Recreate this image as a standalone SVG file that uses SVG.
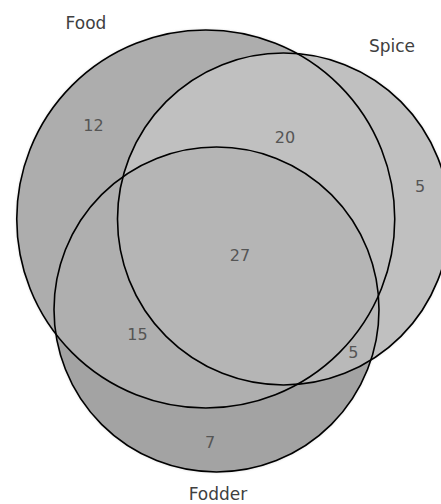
<svg xmlns="http://www.w3.org/2000/svg" width="441" height="504" viewBox="0 0 441 504">
  <style>
    .outline { fill: none; stroke: #000; stroke-width: 1.6; }
    .setlabel { font-family: "DejaVu Sans", sans-serif; font-size: 17px; fill: #404040; text-anchor: middle; }
    .count { font-family: "DejaVu Sans", sans-serif; font-size: 16px; fill: #555; text-anchor: middle; }
  </style>
  <defs>
    <circle id="cFood" cx="205.75" cy="219" r="189"/>
    <circle id="cSpice" cx="283.5" cy="219" r="166"/>
    <circle id="cFodder" cx="216.5" cy="309.5" r="162.5"/>
    <clipPath id="clipFood"><use href="#cFood"/></clipPath>
    <clipPath id="clipSpice"><use href="#cSpice"/></clipPath>
    <filter id="blur" x="-10%" y="-10%" width="120%" height="120%">
      <feGaussianBlur stdDeviation="1.5"/>
    </filter>
  </defs>
  <rect width="441" height="504" fill="#fff"/>
  <g id="shadow" filter="url(#blur)" fill="#999" opacity="0.6">
    <use href="#cFood"/>
    <use href="#cSpice"/>
    <use href="#cFodder"/>
  </g>
  <g id="regions">
    <use href="#cFood" fill="#adadad"/>
    <use href="#cSpice" fill="#c0c0c0"/>
    <use href="#cFodder" fill="#a3a3a3"/>
    <g clip-path="url(#clipFood)"><use href="#cFodder" fill="#afafaf"/></g>
    <g clip-path="url(#clipSpice)"><use href="#cFodder" fill="#b9b9b9"/></g>
    <g clip-path="url(#clipFood)"><g clip-path="url(#clipSpice)"><use href="#cFodder" fill="#b5b5b5"/></g></g>
  </g>
  <g id="food">
    <use href="#cFood" class="outline"/>
    <text class="setlabel" x="86" y="29">Food</text>
  </g>
  <g id="spice">
    <use href="#cSpice" class="outline"/>
    <text class="setlabel" x="392" y="52">Spice</text>
  </g>
  <g id="fodder">
    <use href="#cFodder" class="outline"/>
    <text class="setlabel" x="218" y="499.5">Fodder</text>
  </g>
  <g id="counts">
    <text class="count" x="93.5" y="131">12</text>
    <text class="count" x="285" y="143">20</text>
    <text class="count" x="420" y="191.5">5</text>
    <text class="count" x="240" y="261">27</text>
    <text class="count" x="137.5" y="340">15</text>
    <text class="count" x="353.3" y="357.5">5</text>
    <text class="count" x="210" y="447.5">7</text>
  </g>
  <g id="connectors"/>
</svg>
